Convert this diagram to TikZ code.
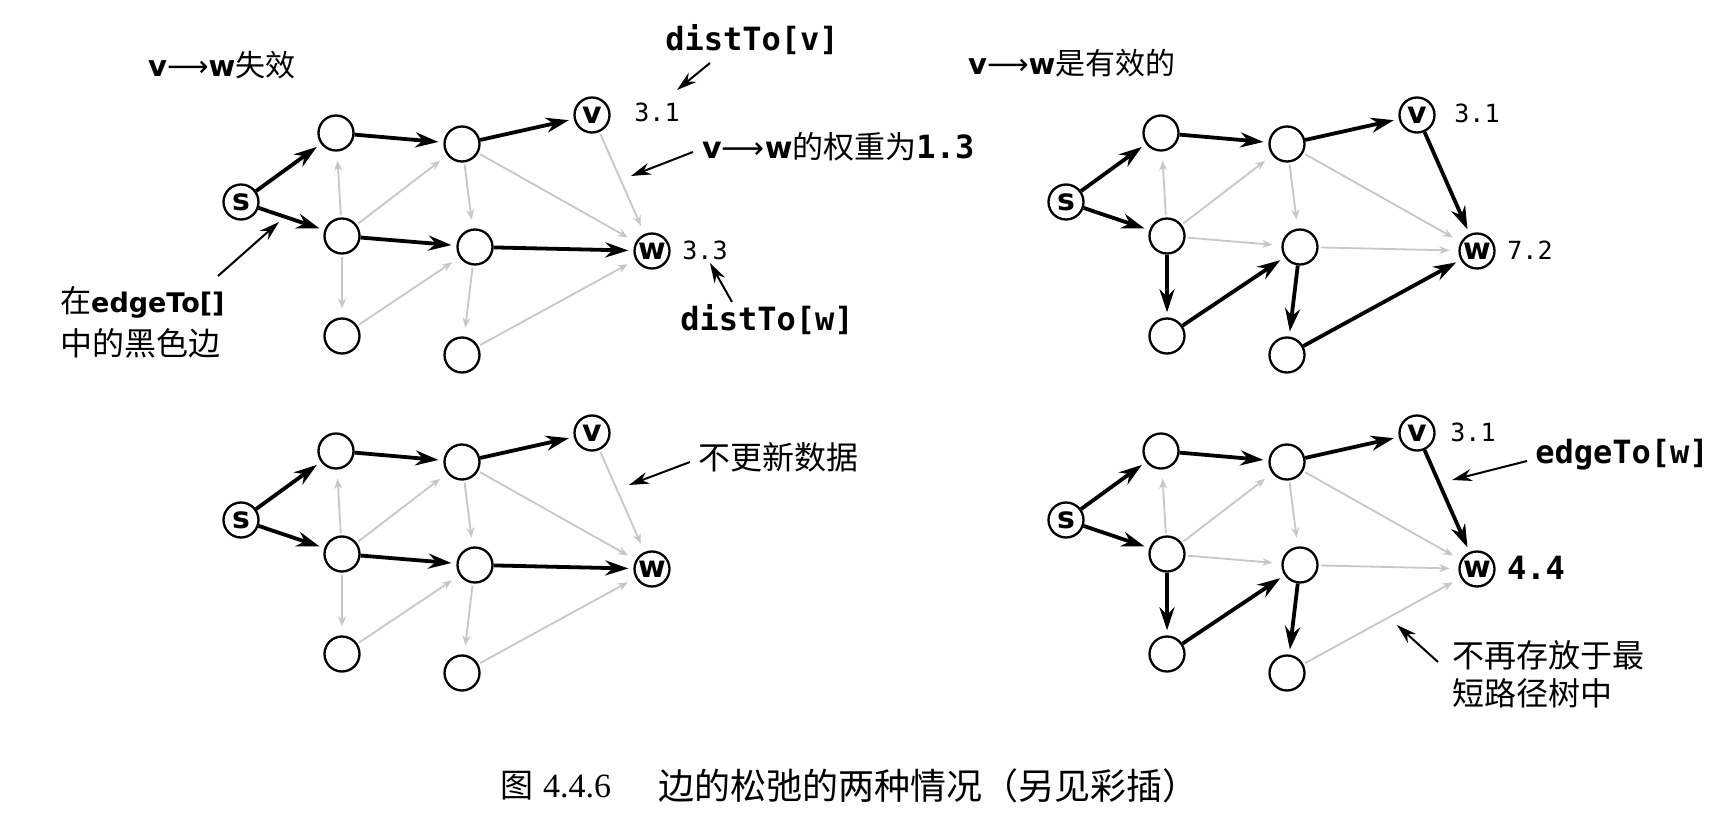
\documentclass[tikz,border=0pt]{standalone}
\usepackage{fontspec}
\usetikzlibrary{arrows.meta}
\newfontfamily\cjk{Noto Sans CJK SC}
\newfontfamily\dsans{DejaVu Sans}
\newfontfamily\dmono{DejaVu Sans Mono}
\newfontfamily\lserif{Liberation Serif}
\newcommand\setfs[1]{\fontsize{#1}{#1}\selectfont}
\newcommand\vwarrow{{\dsans\bfseries v}{\dsans ⟶}{\dsans\bfseries w}}
\tikzset{
  gnode/.style={circle, draw, line width=2.3pt, minimum size=35pt, inner sep=0pt,
    font=\dsans\bfseries\setfs{30}},
  blk/.style={line width=3.8pt, -{Stealth[length=23pt,width=15pt]}, shorten >=5pt},
  gry/.style={draw=black!22, line width=1.8pt, -{Stealth[length=10pt,width=8pt]},
    shorten >=9pt, shorten <=2pt},
  ann/.style={line width=2pt, -{Stealth[length=20pt,width=12pt]}},
  txt/.style={inner sep=0pt},
  cjktxt/.style={inner sep=0pt, font=\cjk\setfs{32}},
  val/.style={inner sep=0pt, font=\dmono\setfs{25}},
  bval/.style={inner sep=0pt, font=\dmono\bfseries\setfs{32}},
}
\newcommand\mkgraph[3]{%
  \node[gnode] (#1s) at (241+#2,202+#3) {s};
  \node[gnode] (#1a) at (336+#2,133+#3) {};
  \node[gnode] (#1b) at (342+#2,236+#3) {};
  \node[gnode] (#1c) at (342+#2,336+#3) {};
  \node[gnode] (#1d) at (462+#2,144+#3) {};
  \node[gnode] (#1e) at (475+#2,247+#3) {};
  \node[gnode] (#1f) at (462+#2,355+#3) {};
  \node[gnode] (#1v) at (592+#2,115+#3) {v};
  \node[gnode] (#1w) at (652+#2,251+#3) {w};
}
\newcommand\bedges[2]{\foreach \a/\b in {#2} {\draw[blk] (#1\a) -- (#1\b);}}
\newcommand\gedges[2]{\foreach \a/\b in {#2} {\draw[gry] (#1\a) -- (#1\b);}}
\begin{document}
\begin{tikzpicture}[x=1pt,y=-1pt]
\fill[white] (0,0) rectangle (1722,829);
\useasboundingbox (0,0) rectangle (1722,829);

\mkgraph{p}{0}{0}
\mkgraph{q}{825}{0}
\mkgraph{r}{0}{318}
\mkgraph{t}{825}{318}

% top left: v->w fails
\gedges{p}{b/a,b/c,b/d,c/e,d/e,e/f,d/w,v/w,f/w}
\bedges{p}{s/a,s/b,a/d,d/v,b/e,e/w}
% top right: v->w is effective
\gedges{q}{b/a,b/d,d/e,d/w,b/e,e/w}
\bedges{q}{s/a,s/b,a/d,d/v,v/w,b/c,c/e,e/f,f/w}
% bottom left
\gedges{r}{b/a,b/c,b/d,c/e,d/e,e/f,d/w,v/w,f/w}
\bedges{r}{s/a,s/b,a/d,d/v,b/e,e/w}
% bottom right
\gedges{t}{b/a,b/d,d/e,d/w,b/e,e/w,f/w}
\bedges{t}{s/a,s/b,a/d,d/v,v/w,b/c,c/e,e/f}

% ---- top left labels
\node[txt, anchor=west, font=\setfs{29}] (h1) at (148,65) {\vwarrow{\cjk\setfs{30}失效}};
\node[val] (pv31) at (657,112) {3.1};
\node[val] (pw33) at (705,250) {3.3};
\node[bval] (distv) at (752,40) {distTo[v]};
\node[bval] (distw) at (767,320) {distTo[w]};
\node[txt, anchor=west, font=\setfs{30}] (wt) at (702,147) {\vwarrow{\cjk\setfs{31}的权重为}{\dmono\bfseries\setfs{32}1.3}};
\node[txt, anchor=west, font=\setfs{27}] (et1) at (60,302) {{\cjk\setfs{31}在}{\dsans\bfseries edgeTo[]}};
\node[cjktxt, anchor=west] (et2) at (60,343) {中的黑色边};
\coordinate (a1s) at (710,63);  \coordinate (a1e) at (677,90);
\coordinate (a2s) at (693,152); \coordinate (a2e) at (631,176);
\coordinate (a3s) at (732,302); \coordinate (a3e) at (710,263);
\coordinate (a4s) at (218,276); \coordinate (a4e) at (279,222);
\draw[ann] (a1s) -- (a1e);
\draw[ann] (a2s) -- (a2e);
\draw[ann] (a3s) -- (a3e);
\draw[ann] (a4s) -- (a4e);

% ---- top right labels
\node[txt, anchor=west, font=\setfs{29}] (h2) at (968,63) {\vwarrow{\cjk\setfs{30}是有效的}};
\node[val] (qv31) at (1477,113) {3.1};
\node[val] (qw72) at (1530,250) {7.2};

% ---- bottom left labels
\node[cjktxt, anchor=west] (nu) at (698,457) {不更新数据};
\coordinate (a5s) at (690,462); \coordinate (a5e) at (629,485);
\draw[ann] (a5s) -- (a5e);

% ---- bottom right labels
\node[val] (tv31) at (1473,432) {3.1};
\node[bval] (etw) at (1622,455) {edgeTo[w]};
\node[bval] (tw44) at (1536,568) {4.4};
\node[cjktxt, anchor=west] (nr1) at (1452,655) {不再存放于最};
\node[cjktxt, anchor=west] (nr2) at (1452,693) {短路径树中};
\coordinate (a6s) at (1527,461); \coordinate (a6e) at (1452,480);
\coordinate (a7s) at (1438,662); \coordinate (a7e) at (1397,625);
\draw[ann] (a6s) -- (a6e);
\draw[ann] (a7s) -- (a7e);

% ---- caption
\node[txt, anchor=west] (cap1) at (500,786) {{\cjk\setfs{33}图}\hspace{10pt}{\lserif\setfs{34}4.4.6}};
\node[txt, anchor=west, font=\cjk\setfs{36}] (cap2) at (658,786) {边的松弛的两种情况（另见彩插）};
\end{tikzpicture}
\end{document}
